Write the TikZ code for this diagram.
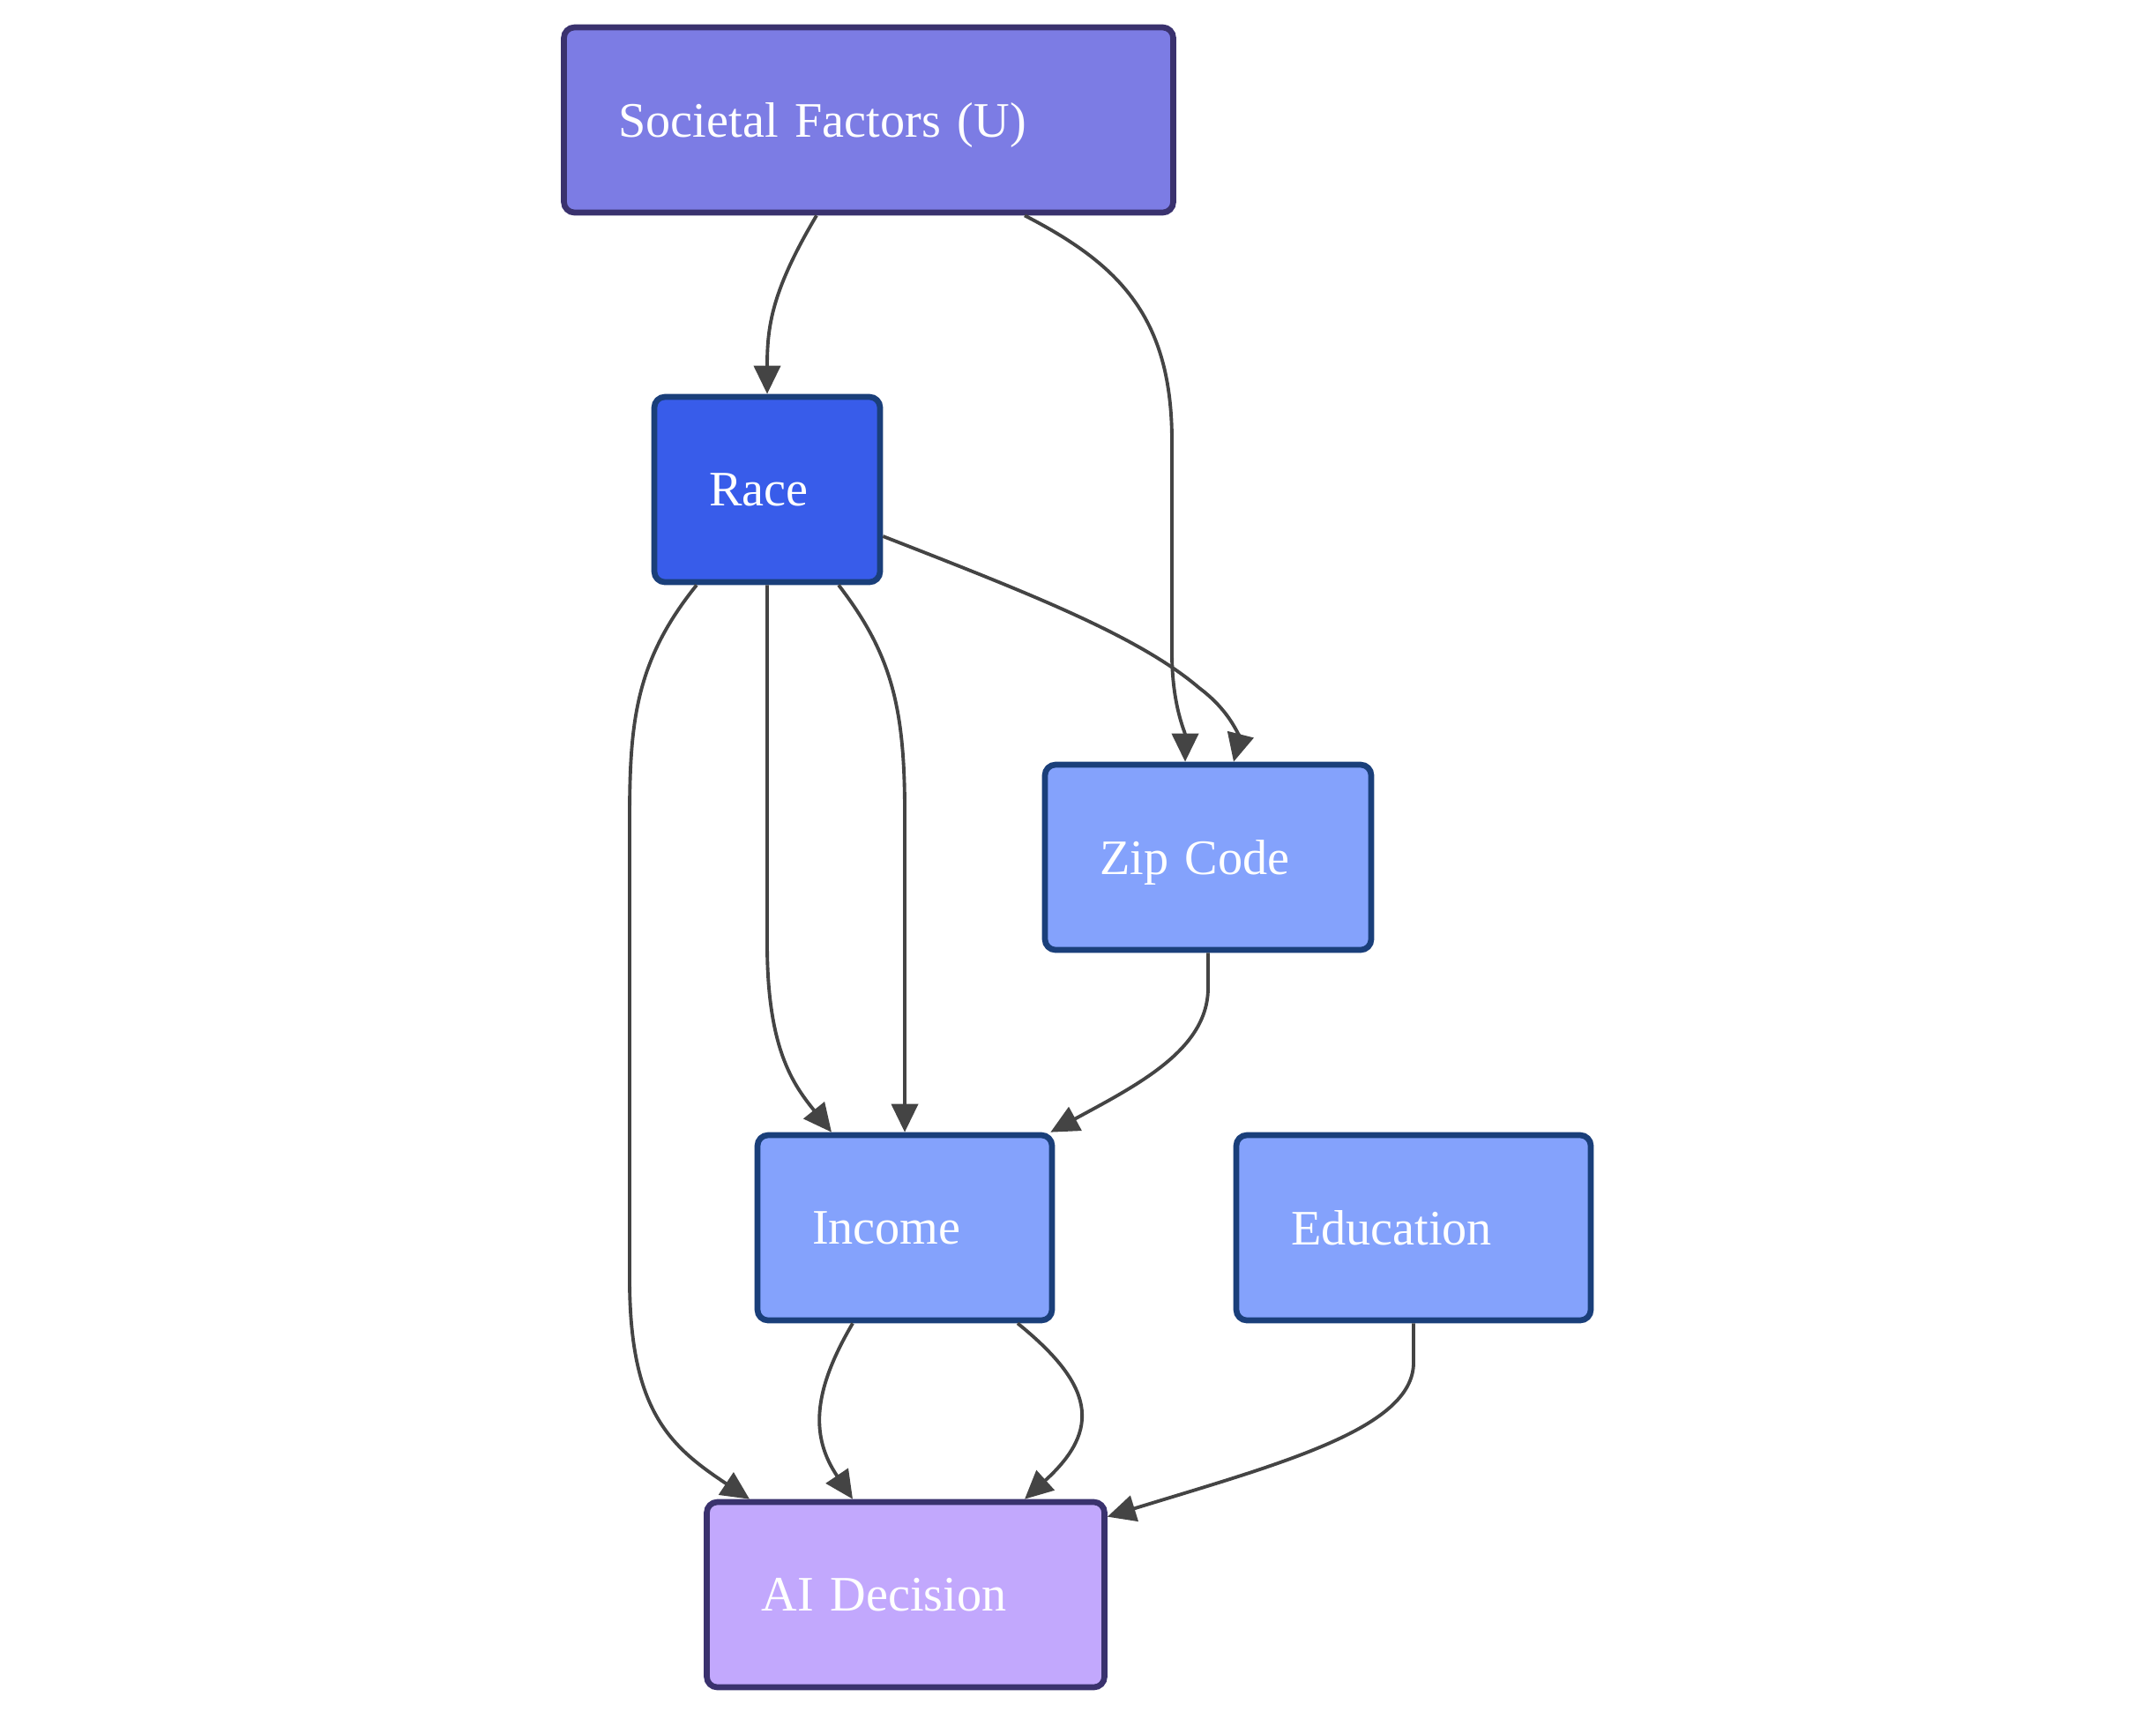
\documentclass[tikz,border=0pt]{standalone}
\usepackage{fontspec}
\setmainfont{Liberation Serif}
\usepackage{tikz}
\usetikzlibrary{positioning, arrows.meta}
\definecolor{latentfill}{HTML}{7C7CE4}
\definecolor{latentline}{HTML}{3A326E}
\definecolor{racefill}{HTML}{385CEA}
\definecolor{nodeline}{HTML}{1A3F7A}
\definecolor{attrfill}{HTML}{84A2FC}
\definecolor{outfill}{HTML}{C2A8FD}
\definecolor{edgecol}{HTML}{444444}
\tikzset{
factor/.style={shape=rectangle, rounded corners=0.12cm, draw, line width=1.9pt, minimum height=2.1cm, inner xsep=0.62cm, align=left, text depth=0pt, text=white, font=\fontsize{16}{19}\selectfont},
latent/.style={factor, fill=latentfill, draw=latentline},
sensitive/.style={factor, fill=racefill, draw=nodeline},
attr/.style={factor, fill=attrfill, draw=nodeline},
outcome/.style={factor, fill=outfill, draw=latentline},
link/.style={draw=edgecol, line width=1.1pt, -{Triangle[length=0.32cm, width=0.30cm]}}}

\begin{document}
\begin{tikzpicture}
\useasboundingbox (0,0) rectangle (24.45,-19.48);
\node [latent, text width=5.67cm] at (9.85, -1.36) (u) {Societal Factors (U)};
\node [sensitive, text width=1.32cm] at (8.70, -5.55) (race) {Race};
\foreach \name/\x/\y/\w/\txt in {zip/13.70/-9.72/2.46/Zip Code, income/10.26/-13.92/2.10/Income, edu/16.03/-13.92/2.78/Education}{
      \node [attr, text width=\w cm] at (\x, \y) (\name) {\txt};
}
\node [outcome, text width=3.27cm] at (10.27, -18.08) (ai) {AI Decision};

\draw [link] ([xshift=-0.59cm]u.south) .. controls (8.75,-3.3) and (8.70,-3.7) .. (race.north);
\draw [link] ([xshift=1.77cm]u.south) .. controls (12.7,-3.0) and (13.29,-3.6) .. (13.29,-5.0)
      -- (13.29,-7.4) .. controls (13.29,-8.0) and (13.44,-8.3) .. ([xshift=-0.26cm]zip.north);
\draw [link] ([yshift=-0.53cm]race.east) .. controls (11.6,-6.7) and (12.9,-7.2) .. (13.6,-7.8)
      .. controls (14.0,-8.1) and (14.05,-8.4) .. ([xshift=0.29cm]zip.north);
\draw [link] ([xshift=-0.80cm]race.south) .. controls (7.2,-7.5) and (7.14,-8.2) .. (7.14,-9.3)
      -- (7.14,-14.5) .. controls (7.14,-16.0) and (7.6,-16.4) .. ([xshift=-1.77cm]ai.north);
\draw [link] (race.south) -- (8.70,-10.7) .. controls (8.70,-11.9) and (9.0,-12.3) .. ([xshift=-0.83cm]income.north);
\draw [link] ([xshift=0.81cm]race.south) .. controls (10.1,-7.4) and (10.26,-8.0) .. (10.26,-9.2) -- (income.north);
\draw [link] (zip.south) -- (13.70,-11.2) .. controls (13.70,-11.9) and (12.9,-12.3) .. ([xshift=-0.05cm]income.north east);
\draw [link] ([xshift=-0.59cm]income.south) .. controls (9.2,-15.8) and (9.2,-16.3) .. ([xshift=-0.60cm]ai.north);
\draw [link] ([xshift=1.28cm]income.south) .. controls (12.4,-15.7) and (12.5,-16.2) .. ([xshift=1.35cm]ai.north);
\draw [link] (edu.south) -- (16.03,-15.45) .. controls (16.03,-16.2) and (14.5,-16.6) .. ([yshift=-0.2cm]ai.north east);
\end{tikzpicture}
\end{document}
